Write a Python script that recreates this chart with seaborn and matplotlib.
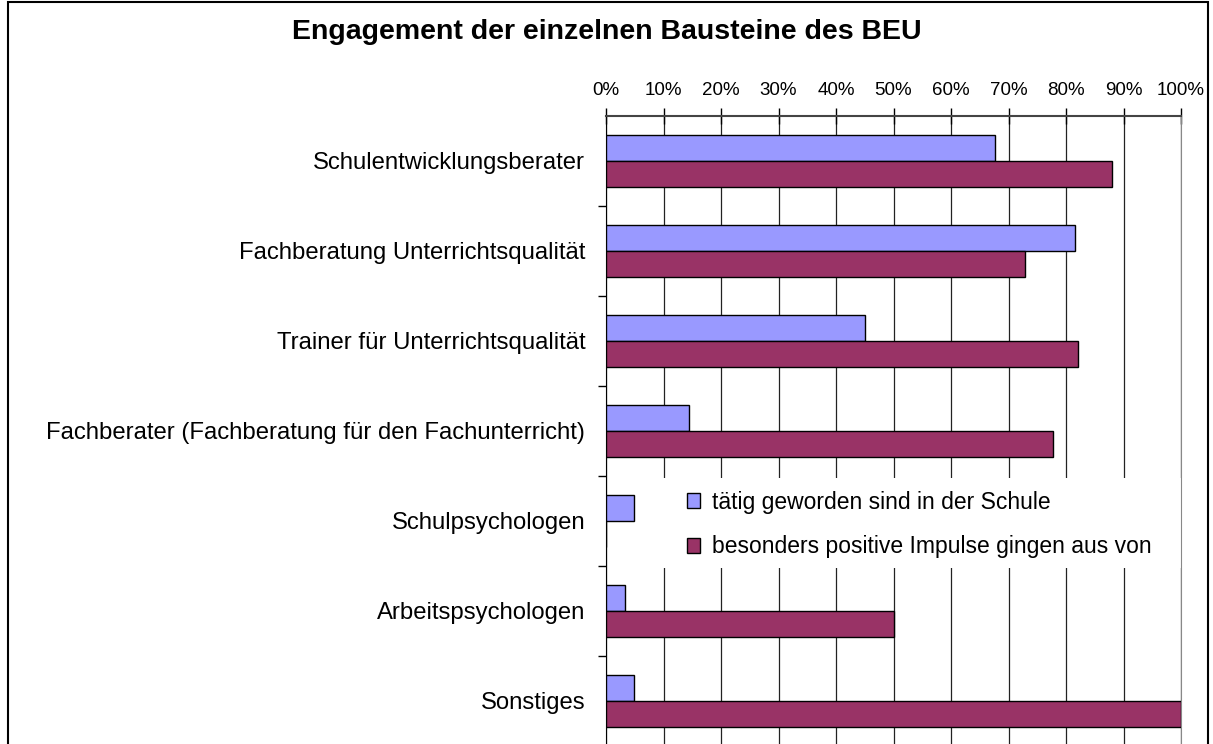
import pandas as pd
import seaborn as sns
import matplotlib.pyplot as plt
from matplotlib.patches import Rectangle
from matplotlib.ticker import PercentFormatter

categories = [
    "Schulentwicklungsberater",
    "Fachberatung Unterrichtsqualität",
    "Trainer für Unterrichtsqualität",
    "Fachberater (Fachberatung für den Fachunterricht)",
    "Schulpsychologen",
    "Arbeitspsychologen",
    "Sonstiges",
]
series = ["tätig geworden sind in der Schule", "besonders positive Impulse gingen aus von"]
taetig = [67.6, 81.5, 45.1, 14.5, 4.9, 3.3, 4.9]
positiv = [88.0, 72.8, 82.0, 77.7, 0.0, 50.0, 100.0]
colors = ["#9999FF", "#993366"]
x_ticks = [0, 10, 20, 30, 40, 50, 60, 70, 80, 90, 100]

df = pd.DataFrame({
    "Baustein": categories * 2,
    "Serie": [series[0]] * len(categories) + [series[1]] * len(categories),
    "Anteil": taetig + positiv,
})

sns.set_style("white")
plt.rcParams["font.family"] = ["Liberation Sans", "DejaVu Sans"]
plt.rcParams["text.color"] = "black"
plt.rcParams["xtick.color"] = "black"
plt.rcParams["ytick.color"] = "black"

fig = plt.figure(figsize=(12.13, 7.44), dpi=100)
ax = fig.add_axes([606 / 1213, -2 / 744, 575 / 1213, 630 / 744])

sns.barplot(data=df, x="Anteil", y="Baustein", hue="Serie", hue_order=series,
            palette=colors, orient="h", width=0.58, edgecolor="black",
            linewidth=1.0, saturation=1, ax=ax, zorder=3)

ax.set_xlim(0, 100)
ax.set_ylim(6.5, -0.5)
ax.set_xticks(x_ticks)
ax.xaxis.set_major_formatter(PercentFormatter(decimals=0))
ax.xaxis.tick_top()
ax.grid(axis="x", color="#222222", linewidth=0.9)
ax.set_axisbelow(True)
ax.tick_params(axis="x", direction="inout", length=12, width=1, labelsize=13.5, pad=6.5)
ax.set_yticks([i - 0.5 for i in range(1, 7)], minor=True)
ax.tick_params(axis="y", which="minor", left=True, direction="out", length=6, width=1)
ax.tick_params(axis="y", which="major", left=False, length=0, labelsize=17.2, pad=15)
ax.set_xlabel("")
ax.set_ylabel("")

ax.spines["bottom"].set_visible(False)
ax.spines["top"].set_color("#444444")
ax.spines["top"].set_linewidth(1.5)
ax.spines["left"].set_color("black")
ax.spines["right"].set_color("#888888")

# white area behind the legend hides the grid lines, as in the original
ax.add_patch(Rectangle((0.06, 0.2825), 0.94, 0.1425, transform=ax.transAxes,
                       facecolor="white", edgecolor="none", zorder=1))

leg = ax.legend(loc="center left", bbox_to_anchor=(0.141, 0.3516), frameon=False,
                fontsize=16.5, handlelength=0.55, handleheight=0.6,
                handletextpad=0.55, labelspacing=0.95, borderpad=0,
                borderaxespad=0)

fig.text(0.5, 1 - 32 / 744, "Engagement der einzelnen Bausteine des BEU",
         ha="center", va="center", fontsize=20.5, fontweight="bold")

fig.add_artist(Rectangle((8 / 1213, -0.01), 1200 / 1213, 1.01 - 2 / 744,
                         transform=fig.transFigure, fill=False,
                         edgecolor="black", linewidth=1.5))

fig.savefig("out.png", dpi=100)
